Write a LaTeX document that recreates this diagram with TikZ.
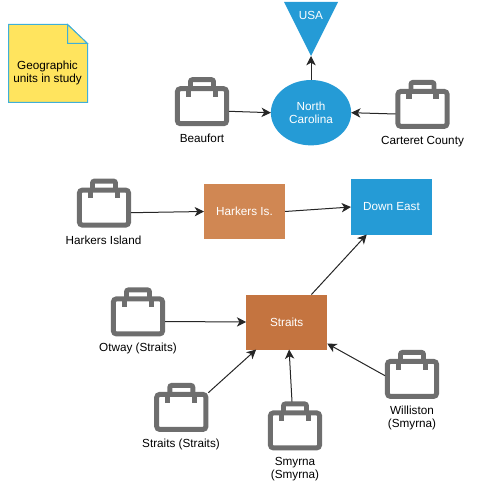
\documentclass[tikz,border=0pt]{standalone}
\usepackage{fontspec}
\setmainfont{Liberation Sans}
\usetikzlibrary{arrows.meta,shapes.geometric}
\definecolor{regionblue}{HTML}{259BD6}
\definecolor{harkersfill}{HTML}{D08753}
\definecolor{straitsfill}{HTML}{C47440}
\definecolor{notefill}{HTML}{FFE45E}
\definecolor{noteline}{HTML}{3FAFD8}
\definecolor{casegray}{HTML}{6E6E6E}
\tikzset{
  every node/.style={font=\fontsize{8.8}{10.2}\selectfont, align=center, inner sep=0pt, outer sep=0pt},
  link/.style={draw=black!85, line width=.75pt, -{Stealth[length=7pt,width=7pt,inset=2pt]}},
  unitbox/.style={minimum width=40.5pt, minimum height=51pt},
  unitcase/.pic={
    \draw[draw=casegray, line width=3.7pt, rounded corners=2.2pt] (2.4,11.4) rectangle (51.6,46.4);
    \draw[draw=casegray, line width=3.7pt, rounded corners=1.5pt] (15.5,11) -- (15.5,2.4) -- (38.5,2.4) -- (38.5,11);
    \draw[draw=casegray, line width=3.9pt] (13.5,10) -- (13.5,19.5);
    \draw[draw=casegray, line width=3.9pt] (40.5,10) -- (40.5,19.5);
  },
  unitname/.style={text=black},
  bluebox/.style={fill=regionblue, text=white},
  placebox/.style={minimum width=60.75pt, minimum height=41.25pt, text=white},
}
\begin{document}
\begin{tikzpicture}[x=.75pt,y=-.75pt]
\useasboundingbox (0,0) rectangle (502,488);
\draw[fill=notefill, draw=noteline, line width=.75pt] (8.5,24.5) -- (67.5,24.5) -- (87.5,43.5) -- (87.5,102.5) -- (8.5,102.5) -- cycle;
\draw[fill=notefill, draw=noteline, line width=.75pt] (67.5,24.5) -- (67.5,43.5) -- (87.5,43.5) -- cycle;
\node (note) at (47.5,73) {Geographic\\units in study};
\node[isosceles triangle, isosceles triangle stretches, shape border rotate=-90, minimum width=40.5pt, minimum height=40.5pt, fill=regionblue, anchor=apex] (usa) at (311,56) {};
\node[text=white] (usaname) at (311,15) {USA};
\node[bluebox, ellipse, minimum width=60.2pt, minimum height=49pt] (nc) at (311,112.7) {North\\Carolina};
\node[placebox, bluebox] (downeast) at (391.5,207) {Down East};
\node[placebox, fill=harkersfill] (harkers) at (244.5,211.5) {Harkers Is.};
\node[placebox, fill=straitsfill] (straits) at (286.7,322) {Straits};
\node[unitbox] (beaufort) at (202,111.3) {};
\node[unitbox] (carteret) at (422.5,114) {};
\node[unitbox] (harkersisl) at (104,212.7) {};
\node[unitbox] (otway) at (138,321.5) {};
\node[unitbox] (straitsstr) at (181.3,417) {};
\node[unitbox] (smyrna) at (295,435.5) {};
\node[unitbox] (williston) at (412,384) {};
\foreach \unit in {beaufort,carteret,harkersisl,otway,straitsstr,smyrna,williston}
  \pic at (\unit.north west) {unitcase};
\node[unitname] (beaufortname) at (202,138.5) {Beaufort};
\node[unitname] (carteretname) at (422.5,141.5) {Carteret County};
\node[unitname] (harkersislname) at (103.5,240) {Harkers Island};
\node[unitname] (otwayname) at (138,348.5) {Otway (Straits)};
\node[unitname] (straitsstrname) at (181,444.5) {Straits (Straits)};
\node[unitname] (smyrnaname) at (295,469) {Smyrna\\(Smyrna)};
\node[unitname] (willistonname) at (412,418) {Williston\\(Smyrna)};
\coordinate (straitsout) at (208.3,392.7);
\coordinate (smyrnaout) at (292,401.7);
\coordinate (willistonout) at (385,375.7);
\draw[link] (beaufort.east) -- (nc.west);
\draw[link] (carteret.west) -- (nc.east);
\draw[link] (nc.north) -- (usa.apex);
\draw[link] (harkersisl.east) -- (harkers.west);
\draw[link] (harkers.east) -- (downeast.west);
\draw[link] (otway.east) -- (straits.west);
\draw[link] (straits.48) -- (downeast.228);
\draw[link] (straitsout) -- (straits.222);
\draw[link] (smyrnaout) -- (straits.275);
\draw[link] (willistonout) -- (straits.-28);
\end{tikzpicture}
\end{document}
